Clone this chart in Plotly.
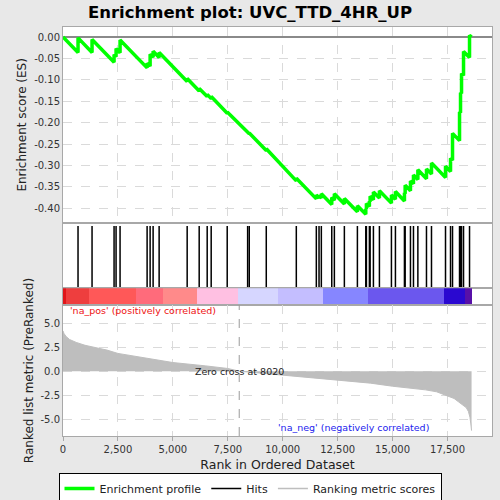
import plotly.graph_objects as go

# Data
N_GENES = 18594
ZERO_CROSS = 8020

hit_ranks = [684, 1322, 2324, 2415, 2597, 3828, 3965, 4101, 4375, 5651,
             6198, 6562, 6744, 7473, 8403, 8476, 9251, 10618, 11529, 11652,
             11757, 12231, 12350, 12805, 13398, 13780, 13808, 13944, 13977, 14127,
             14400, 14947, 15129, 15539, 15571, 15813, 15950, 16150, 16542, 16770,
             17408, 17636, 17727, 18046, 18091, 18137, 18228, 18501]

# running enrichment score just before / just after each hit
es_before = [-0.036, -0.036, -0.059, -0.046, -0.037, -0.072, -0.068, -0.047, -0.048, -0.104,
             -0.126, -0.139, -0.144, -0.178, -0.224, -0.226, -0.265, -0.336, -0.378, -0.376,
             -0.376, -0.391, -0.381, -0.390, -0.408, -0.414, -0.402, -0.396, -0.385, -0.380,
             -0.376, -0.388, -0.379, -0.383, -0.366, -0.359, -0.343, -0.333, -0.331, -0.320,
             -0.328, -0.314, -0.288, -0.242, -0.177, -0.132, -0.090, -0.048]
es_after = [-0.002, -0.006, -0.041, -0.027, -0.007, -0.061, -0.040, -0.033, -0.036, -0.097,
            -0.120, -0.134, -0.139, -0.175, -0.222, -0.224, -0.261, -0.330, -0.369, -0.370,
            -0.366, -0.375, -0.366, -0.377, -0.394, -0.401, -0.389, -0.383, -0.372, -0.362,
            -0.359, -0.369, -0.361, -0.364, -0.346, -0.336, -0.322, -0.310, -0.308, -0.294,
            -0.302, -0.283, -0.225, -0.175, -0.130, -0.085, -0.034, 0.004]

metric_ranks = [0, 50, 150, 300, 600, 1000, 1500, 2000, 2500, 3500, 5000, 6500, 7500,
                8020, 9000, 10000, 11000, 12500, 14000, 15000, 16000, 16500, 17000,
                17500, 17800, 18000, 18200, 18350, 18450, 18520, 18560, 18594]
metric_values = [4.2, 3.9, 3.6, 3.3, 3.0, 2.7, 2.45, 2.2, 1.85, 1.5, 0.9, 0.55, 0.28,
                 0.0, -0.2, -0.45, -0.65, -0.94, -1.25, -1.57, -1.8, -1.95, -2.15,
                 -2.58, -2.85, -3.2, -3.5, -3.8, -4.2, -4.8, -5.5, -6.2]

band_edges = [0, 152, 1186, 3343, 4558, 6077, 7976, 9799, 11819, 13900, 17318, 18306, 18594]
band_colors = ["#e0151a", "#ee3e3e", "#ff5858", "#ff6b7b", "#ff8a8a", "#ffc0e2",
               "#d6d6ff", "#c4beff", "#8686ff", "#6b57ee", "#2a08d0", "#5810a8"]

es_tickvals = [0, -0.05, -0.10, -0.15, -0.20, -0.25, -0.30, -0.35, -0.40]
es_ticktext = ["0.00", "-0.05", "-0.10", "-0.15", "-0.20", "-0.25", "-0.30", "-0.35", "-0.40"]
metric_tickvals = [5, 2.5, 0, -2.5, -5]
metric_ticktext = ["5.0", "2.5", "0.0", "-2.5", "-5.0"]

FONT = "DejaVu Sans"
X_MAX = N_GENES * 1.05

# ES profile vertices
es_x, es_y = [0], [0.0]
for r, b, a in zip(hit_ranks, es_before, es_after):
    es_x += [r, r]
    es_y += [b, a]
es_x.append(N_GENES)
es_y.append(0.0)

# hit ticks
hx, hy = [], []
for r in hit_ranks:
    hx += [r, r, None]
    hy += [0.01, 0.96, None]

band_mid = [(a + b) / 2 for a, b in zip(band_edges[:-1], band_edges[1:])]
band_w = [b - a for a, b in zip(band_edges[:-1], band_edges[1:])]

fig = go.Figure()

fig.add_trace(go.Scatter(
    x=es_x, y=es_y, mode="lines", name="Enrichment profile",
    line=dict(color="#00ff00", width=3.5), xaxis="x", yaxis="y"
))
fig.add_trace(go.Scatter(
    x=hx, y=hy, mode="lines", name="Hits",
    line=dict(color="black", width=1.5), xaxis="x2", yaxis="y2"
))
fig.add_trace(go.Bar(
    x=band_mid, y=[1] * len(band_mid), width=band_w,
    marker=dict(color=band_colors, line=dict(width=0)),
    showlegend=False, hoverinfo="skip", xaxis="x3", yaxis="y3"
))
fig.add_trace(go.Scatter(
    x=metric_ranks, y=metric_values, mode="lines", showlegend=False,
    fill="tozeroy", fillcolor="#bebebe",
    line=dict(color="#bebebe", width=1), xaxis="x4", yaxis="y4"
))
# legend-only entry, drawn as a plain line like the reference key
fig.add_trace(go.Scatter(
    x=[None], y=[None], mode="lines", name="Ranking metric scores",
    line=dict(color="#bebebe", width=1.5), xaxis="x4", yaxis="y4"
))

axis_common = dict(
    range=[0, X_MAX], showline=True, mirror=True, linecolor="#a8a8a8",
    zeroline=False, automargin=False,
    tickfont=dict(family=FONT, size=10, color="#333333")
)
grid = dict(showgrid=True, gridcolor="#dadada", griddash="dash", gridwidth=1)

fig.update_layout(
    width=500, height=500,
    margin=dict(l=63, r=8, t=27, b=64),
    paper_bgcolor="#e8e8e8",
    plot_bgcolor="white",
    font=dict(family=FONT, color="#222222"),
    title=dict(
        text="<b>Enrichment plot: UVC_TTD_4HR_UP</b>",
        x=0.5, xanchor="center", y=0.976, yanchor="middle",
        font=dict(family=FONT, size=16.5, color="black")
    ),
    bargap=0,
    xaxis=dict(axis_common, **grid, anchor="y", showticklabels=False, ticks="",
               dtick=2500),
    yaxis=dict(
        domain=[0.5215, 1.0], range=[-0.4337, 0.0234], anchor="x",
        tickvals=es_tickvals, ticktext=es_ticktext, **grid,
        showline=True, mirror=True, linecolor="#a8a8a8", automargin=False,
        zeroline=True, zerolinecolor="#8a8a8a", zerolinewidth=1.5,
        tickfont=dict(family=FONT, size=10, color="#333333"),
        title=dict(text="Enrichment score (ES)", standoff=4,
                   font=dict(family=FONT, size=12, color="#222222"))
    ),
    xaxis2=dict(axis_common, anchor="y2", showgrid=False, showticklabels=False,
                ticks="", matches="x"),
    yaxis2=dict(domain=[0.3611, 0.52], range=[0, 1], anchor="x2", automargin=False,
                showgrid=False, showticklabels=False, ticks="",
                showline=True, mirror=True, linecolor="#a8a8a8", zeroline=False),
    xaxis3=dict(axis_common, anchor="y3", showgrid=False, showticklabels=False,
                ticks="", matches="x"),
    yaxis3=dict(domain=[0.3203, 0.3611], range=[0, 1], anchor="x3", automargin=False,
                showgrid=False, showticklabels=False, ticks="",
                showline=True, mirror=True, linecolor="#a8a8a8", zeroline=False),
    xaxis4=dict(axis_common, **grid, anchor="y4", matches="x", dtick=2500,
                tickformat=",d", ticks="outside", ticklen=4, tickcolor="#a8a8a8",
                title=dict(text="Rank in Ordered Dataset", standoff=6,
                           font=dict(family=FONT, size=12.5, color="#222222"))),
    yaxis4=dict(
        domain=[0.0, 0.3203], range=[-6.76, 6.9], anchor="x4",
        tickvals=metric_tickvals, ticktext=metric_ticktext, **grid,
        showline=True, mirror=True, linecolor="#a8a8a8", zeroline=False,
        automargin=False,
        tickfont=dict(family=FONT, size=10, color="#333333"),
        title=dict(text="Ranked list metric (PreRanked)", standoff=4,
                   font=dict(family=FONT, size=12, color="#222222"))
    ),
    legend=dict(
        orientation="h", xref="container", yref="container",
        x=0.5, xanchor="center", y=0.054, yanchor="top",
        bgcolor="white", bordercolor="black", borderwidth=1,
        font=dict(family=FONT, size=11, color="#222222"),
        itemwidth=30, tracegroupgap=0
    ),
)

fig.add_shape(type="line", x0=ZERO_CROSS, x1=ZERO_CROSS, xref="x4",
              y0=0, y1=1, yref="y4 domain",
              line=dict(color="#9a9a9a", width=1, dash="dash"))

fig.add_annotation(x=ZERO_CROSS, y=0, xref="x4", yref="y4",
                   text=f"Zero cross at {ZERO_CROSS}", showarrow=False,
                   font=dict(family=FONT, size=9.5, color="#222222"))
fig.add_annotation(x=0.012, xref="paper", xanchor="left", y=6.3, yref="y4",
                   text="'na_pos' (positively correlated)", showarrow=False,
                   font=dict(family=FONT, size=9.5, color="#ee1111"))
fig.add_annotation(x=0.678, xref="paper", xanchor="center", y=-5.88, yref="y4",
                   text="'na_neg' (negatively correlated)", showarrow=False,
                   font=dict(family=FONT, size=9.5, color="#2222ee"))

# the page body has a default 8px margin; drop it so the figure fills the window
fig.write_html("out.html", config={"displayModeBar": False},
               post_script="document.body.style.margin='0px';")
